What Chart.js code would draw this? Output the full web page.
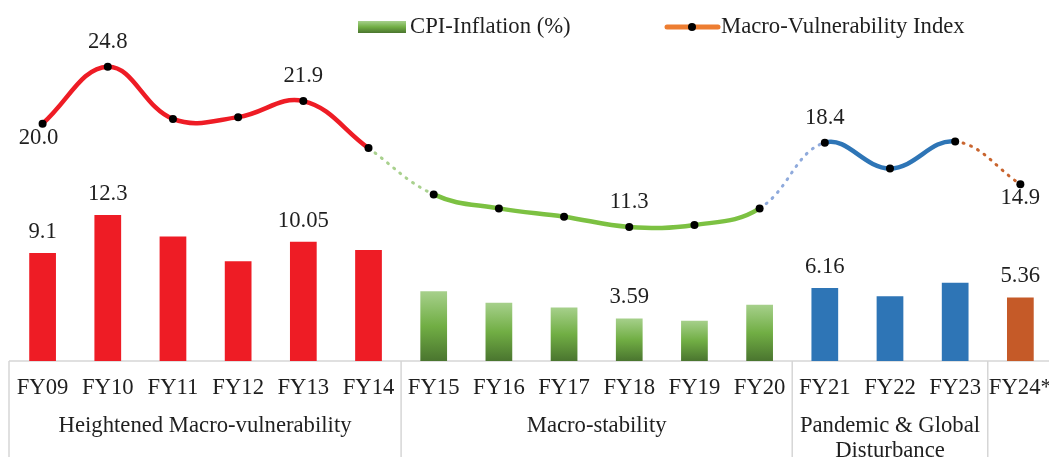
<!DOCTYPE html>
<html><head><meta charset="utf-8">
<script src="https://cdn.jsdelivr.net/npm/chart.js@4.4.1/dist/chart.umd.min.js"></script>
<style>
html,body{margin:0;padding:0;background:#fff;overflow:hidden;width:1049px;height:457px}
#c{position:absolute;left:0;top:0}
</style>
</head><body><canvas id="c" width="1057" height="457" style="width:1057px;height:457px"></canvas>
<script>
const categories = ['FY09','FY10','FY11','FY12','FY13','FY14','FY15','FY16','FY17','FY18','FY19','FY20','FY21','FY22','FY23','FY24*'];
const cpiInflation = [9.1, 12.3, 10.5, 8.4, 10.05, 9.35, 5.87, 4.9, 4.5, 3.59, 3.4, 4.74, 6.16, 5.45, 6.6, 5.36];
const macroVulnerability = [20.0, 24.8, 20.4, 20.55, 21.9, 17.94, 14.04, 12.86, 12.16, 11.3, 11.46, 12.86, 18.4, 16.23, 18.5, 14.9];
const cpiLabels = ['9.1','12.3','','','10.05','','','','','3.59','','','6.16','','','5.36'];
const mviLabels = ['20.0','24.8','','','21.9','','','','','11.3','','','18.4','','','14.9'];
const mviLabelBelow = [true,false,false,false,false,false,false,false,false,false,false,false,false,false,false,true];
const phaseOf = [0,0,0,0,0,0,1,1,1,1,1,1,2,2,2,3];
const periodNames = [['Heightened Macro-vulnerability'], ['Macro-stability'], ['Pandemic & Global','Disturbance'], ['']];
const yMin = 0, yMax = 30;

const FONT = '"Liberation Serif", "Times New Roman", serif';
const FS = 22.7;
const TXT = '#1f1f1f';
const barColors = ['#ee1c25', null, '#2e75b6', '#c55a28'];
const lineColors = ['#ee1c25', '#7cc142', '#2e75b6', '#c55a28'];
const dotColors = ['#ee1c25', '#a9d18e', '#8faadc', '#c9652f'];

function greenGrad(ctx, y0, y1) {
  const g = ctx.createLinearGradient(0, y0, 0, y1);
  g.addColorStop(0, '#a6d08b');
  g.addColorStop(0.5, '#71ae44');
  g.addColorStop(1, '#4a752f');
  return g;
}

const decor = {
  id: 'decor',
  beforeDatasetsDraw(chart) {
    const ctx = chart.ctx, a = chart.chartArea;
    ctx.save();
    ctx.strokeStyle = '#d6d6d6';
    ctx.lineWidth = 1.5;
    ctx.beginPath();
    ctx.moveTo(9, a.bottom); ctx.lineTo(chart.width, a.bottom);
    ctx.stroke();
    ctx.restore();
  },
  afterDatasetsDraw(chart) {
    const ctx = chart.ctx, xs = chart.scales.x, a = chart.chartArea;
    ctx.save();
    const n = categories.length;
    const bounds = [9];
    for (let i = 0; i < n - 1; i++) {
      if (phaseOf[i] !== phaseOf[i + 1]) bounds.push((xs.getPixelForValue(i) + xs.getPixelForValue(i + 1)) / 2);
    }
    bounds.push(chart.width + 40);
    ctx.strokeStyle = '#d6d6d6';
    ctx.lineWidth = 1.5;
    for (let b = 0; b < bounds.length - 1; b++) {
      ctx.beginPath(); ctx.moveTo(bounds[b], a.bottom); ctx.lineTo(bounds[b], chart.height); ctx.stroke();
    }
    ctx.fillStyle = TXT;
    ctx.font = FS + 'px ' + FONT;
    ctx.textAlign = 'center';
    ctx.textBaseline = 'alphabetic';
    periodNames.forEach((lines, p) => {
      const cx = (bounds[p] + bounds[p + 1]) / 2;
      lines.forEach((t, k) => ctx.fillText(t, cx, 432 + k * 25));
    });
    const barMeta = chart.getDatasetMeta(0);
    ctx.textBaseline = 'middle';
    cpiLabels.forEach((t, i) => {
      if (!t) return;
      const el = barMeta.data[i];
      ctx.fillText(t, el.x, el.y - 21);
    });
    const lineMeta = chart.getDatasetMeta(1);
    mviLabels.forEach((t, i) => {
      if (!t) return;
      const el = lineMeta.data[i];
      const dy = mviLabelBelow[i] ? 14 : -25;
      const dx = (i === 0) ? -4 : 0;
      ctx.fillText(t, el.x + dx, el.y + dy);
    });
    ctx.fillStyle = greenGrad(ctx, 21, 33);
    ctx.fillRect(358, 21, 48, 12);
    ctx.fillStyle = TXT;
    ctx.textAlign = 'left';
    ctx.textBaseline = 'alphabetic';
    ctx.fillText('CPI-Inflation (%)', 410, 33);
    ctx.strokeStyle = '#ed7d31';
    ctx.lineWidth = 5;
    ctx.lineCap = 'round';
    ctx.beginPath(); ctx.moveTo(667, 27); ctx.lineTo(718, 27); ctx.stroke();
    ctx.fillStyle = '#000';
    ctx.beginPath(); ctx.arc(692, 27, 4, 0, Math.PI * 2); ctx.fill();
    ctx.fillStyle = TXT;
    ctx.fillText('Macro-Vulnerability Index', 721, 33);
    ctx.restore();
  }
};

new Chart(document.getElementById('c'), {
  data: {
    labels: categories,
    datasets: [
      {
        type: 'bar',
        label: 'CPI-Inflation (%)',
        data: cpiInflation,
        order: 2,
        barPercentage: 0.41,
        categoryPercentage: 1.0,
        backgroundColor: (c) => {
          const i = c.dataIndex;
          if (i === undefined) return '#71ae44';
          const ph = phaseOf[i];
          if (ph !== 1) return barColors[ph];
          const chart = c.chart, ys = chart.scales.y;
          if (!ys || !chart.chartArea) return '#71ae44';
          return greenGrad(chart.ctx, ys.getPixelForValue(cpiInflation[i]), ys.getPixelForValue(0));
        }
      },
      {
        type: 'line',
        label: 'Macro-Vulnerability Index',
        data: macroVulnerability,
        order: 1,
        tension: 0.4,
        borderWidth: 4.5,
        borderColor: '#ee1c25',
        borderCapStyle: 'round',
        pointRadius: 4,
        pointBackgroundColor: '#000',
        pointBorderWidth: 0,
        segment: {
          borderColor: (s) => {
            const a = phaseOf[s.p0DataIndex], b = phaseOf[s.p1DataIndex];
            return a === b ? lineColors[a] : dotColors[b];
          },
          borderDash: (s) => phaseOf[s.p0DataIndex] === phaseOf[s.p1DataIndex] ? [] : [1, 7],
          borderWidth: (s) => phaseOf[s.p0DataIndex] === phaseOf[s.p1DataIndex] ? 4.5 : 3
        }
      }
    ]
  },
  options: {
    responsive: false,
    maintainAspectRatio: false,
    animation: false,
    layout: { padding: { left: 10, right: 0, top: 5, bottom: 0 } },
    plugins: { legend: { display: false }, tooltip: { enabled: false } },
    scales: {
      x: {
        offset: true,
        grid: { display: false },
        border: { display: false },
        ticks: { font: { family: FONT, size: FS }, color: TXT, padding: 5, maxRotation: 0, autoSkip: false },
        afterFit(s) { s.height = 96; }
      },
      y: { display: false, min: yMin, max: yMax }
    }
  },
  plugins: [decor]
});
</script>
</body></html>
